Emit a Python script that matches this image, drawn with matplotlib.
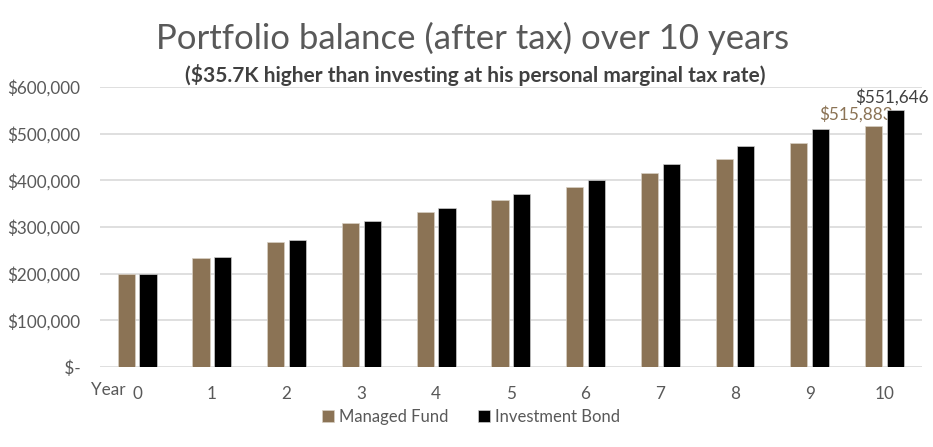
import numpy as np
import matplotlib.pyplot as plt
from matplotlib.ticker import FuncFormatter

years = ["0", "1", "2", "3", "4", "5", "6", "7", "8", "9", "10"]
managed_fund = [200000, 233000, 269000, 308000, 332000, 358000, 385000, 415000, 447000, 481000, 515883]
investment_bond = [200000, 235000, 273000, 313000, 340000, 371000, 402000, 436000, 474000, 510000, 551646]

brown = "#8b7355"
grey = "#595959"

plt.rcParams["font.family"] = ["Lato", "DejaVu Sans"]

fig = plt.figure(figsize=(9.33, 4.47), dpi=100)
ax = fig.add_axes([0.107, 0.179, 0.881, 0.626])

x = np.arange(len(years))
w = 0.23
ax.bar(x - 0.145, managed_fund, w, color=brown, edgecolor="#d8cfc4", linewidth=0.5, label="Managed Fund", zorder=3)
ax.bar(x + 0.145, investment_bond, w, color="black", edgecolor="#cccccc", linewidth=0.5, label="Investment Bond", zorder=3)

ax.set_xlim(-0.5, len(years) - 0.5)
ax.set_ylim(0, 600000)
ax.set_yticks(np.arange(0, 600001, 100000))
ax.yaxis.set_major_formatter(FuncFormatter(lambda v, p: " $-" if v == 0 else f"${v:,.0f}"))
ax.set_xticks(x)
ax.set_xticklabels(years)
ax.tick_params(length=0, labelsize=12.3, colors=grey)
ax.tick_params(axis="x", pad=14)
ax.tick_params(axis="y", pad=14)
ax.grid(axis="y", color="#d9d9d9", linewidth=1.2, zorder=0)
for s in ax.spines.values():
    s.set_visible(False)

# value labels on the last year
ax.text(x[-1] - 0.38, managed_fund[-1] + 8000, f"${managed_fund[-1]:,}", color=brown,
        ha="center", va="bottom", fontsize=12.3, zorder=2)
ax.text(x[-1] + 0.1, investment_bond[-1] + 8000, f"${investment_bond[-1]:,}", color="#404040",
        ha="center", va="bottom", fontsize=12.3, zorder=4)

fig.text(0.098, 0.128, "Year", color=grey, fontsize=12.3, va="center")

fig.text(0.506, 0.915, "Portfolio balance (after tax) over 10 years", color=grey,
         fontsize=25, ha="center", va="center")
fig.text(0.509, 0.833, "($35.7K higher than investing at his personal marginal tax rate)",
         color="#404040", fontsize=15, fontweight="bold", ha="center", va="center")

fig.legend(loc="center", bbox_to_anchor=(0.505, 0.068), ncol=2, frameon=False,
           fontsize=12, labelcolor=grey, handlelength=0.7, handleheight=0.7,
           handletextpad=0.3, columnspacing=1.8)

fig.savefig("out.png", dpi=100)
